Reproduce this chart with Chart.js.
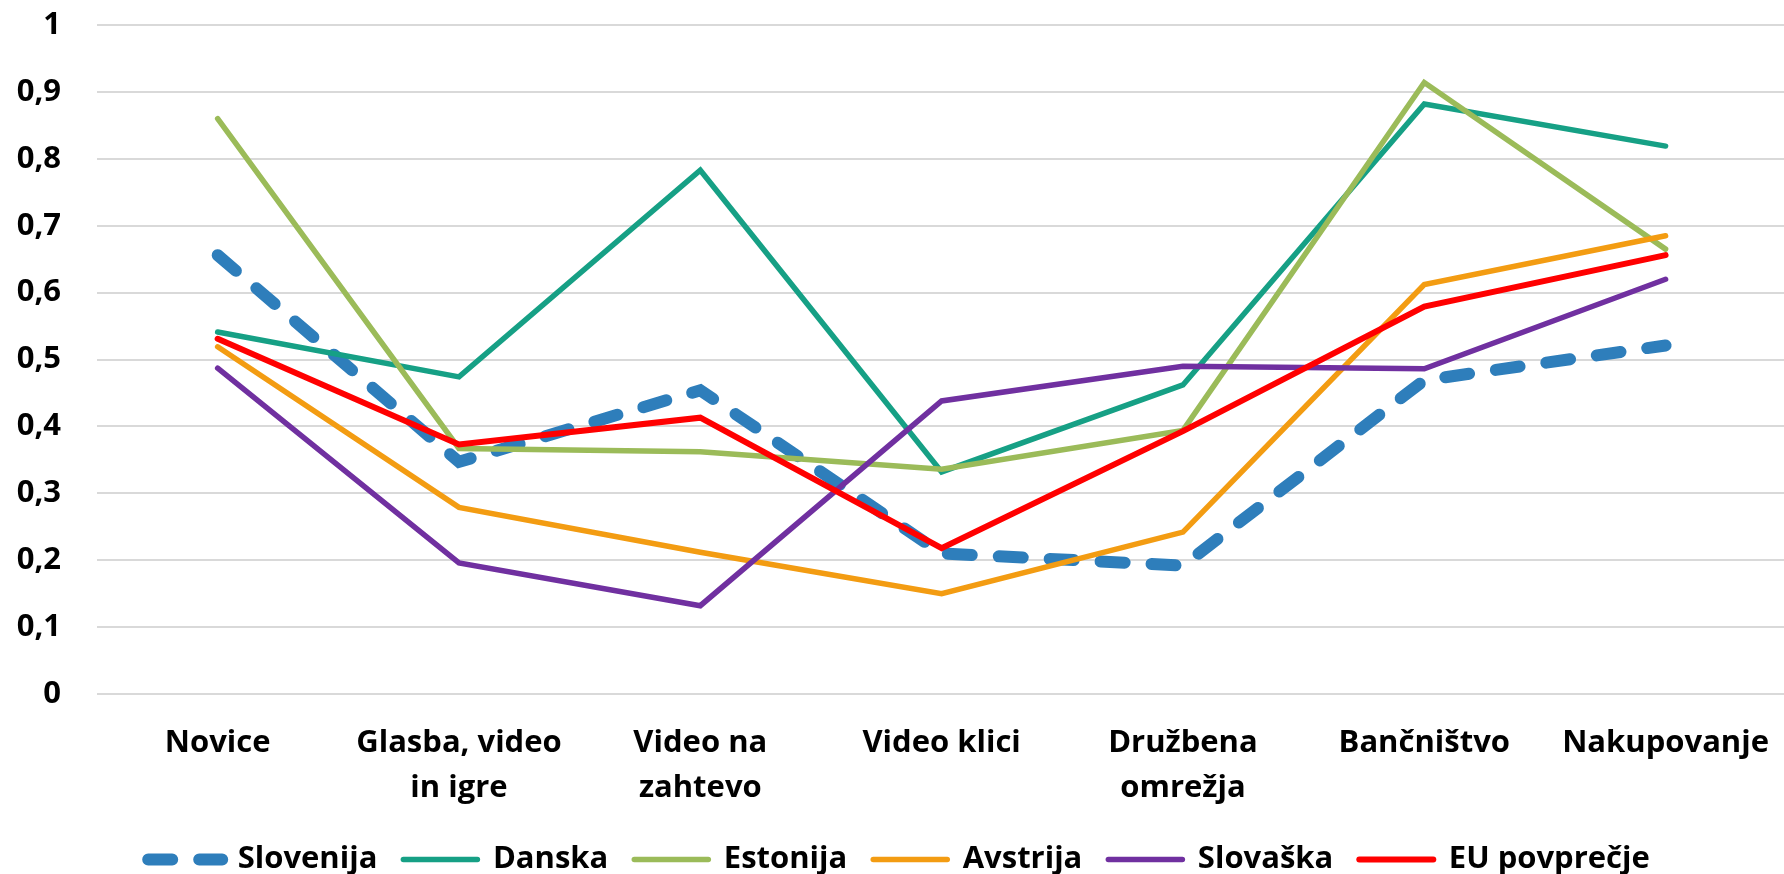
<!DOCTYPE html>
<html>
<head>
<meta charset="utf-8">
<script src="https://cdn.jsdelivr.net/npm/chart.js@4/dist/chart.umd.min.js"></script>
<style>
  html, body { margin: 0; padding: 0; background: #fff; overflow: hidden; }
  #wrap { width: 1788px; height: 885px; }
</style>
</head>
<body>
<div id="wrap"><canvas id="chart" width="1788" height="885"></canvas></div>
<script>
// categories (x axis)
const categories = [
  "Novice",
  ["Glasba, video", "in igre"],
  ["Video na", "zahtevo"],
  "Video klici",
  ["Družbena", "omrežja"],
  "Bančništvo",
  "Nakupovanje",
];

// y axis tick labels (0 to 1, step 0.1)
const yTickLabels = ["0", "0,1", "0,2", "0,3", "0,4", "0,5", "0,6", "0,7", "0,8", "0,9", "1"];

// series values
const slovenija = [0.656, 0.347, 0.454, 0.210, 0.192, 0.469, 0.521];
const danska = [0.541, 0.474, 0.783, 0.332, 0.462, 0.882, 0.819];
const estonija = [0.860, 0.367, 0.362, 0.336, 0.394, 0.914, 0.665];
const avstrija = [0.519, 0.279, 0.212, 0.150, 0.242, 0.612, 0.685];
const slovaska = [0.487, 0.196, 0.132, 0.438, 0.490, 0.486, 0.620];
const euPovprecje = [0.531, 0.373, 0.413, 0.218, 0.393, 0.579, 0.656];

const font = { family: "'Open Sans', sans-serif", size: 31, weight: "bold" };

// helper for one line series
const line = function (label, data, color, width, order) {
  return {
    label: label,
    data: data,
    borderColor: color,
    backgroundColor: color,
    borderWidth: width,
    borderCapStyle: "round",
    borderJoinStyle: "miter",
    pointRadius: 0,
    tension: 0,
    fill: false,
    order: order, //lower order is drawn on top
  };
};

const slo = line("Slovenija", slovenija, "#2E7EBB", 12, 5);
slo.borderDash = [24, 27];

// legend items straight from the datasets (keeps dash + full line width)
const legendItems = function (chart) {
  return chart.data.datasets.map((ds, i) => ({
    text: ds.label,
    fillStyle: ds.borderColor,
    strokeStyle: ds.borderColor,
    fontColor: "#000",
    lineWidth: ds.borderWidth,
    lineDash: ds.borderDash || [],
    lineCap: "round",
    pointStyle: "line",
    hidden: false,
    datasetIndex: i,
  }));
};

const myChart = new Chart(document.getElementById("chart"), {
  type: "line",
  data: {
    labels: categories,
    datasets: [
      slo,
      line("Danska", danska, "#16A085", 5.5, 4),
      line("Estonija", estonija, "#9BBB59", 5.5, 3),
      line("Avstrija", avstrija, "#F39C12", 5.5, 2),
      line("Slovaška", slovaska, "#7030A0", 5.5, 1),
      line("EU povprečje", euPovprecje, "#FF0000", 6, 0),
    ],
  },
  options: {
    responsive: false,
    animation: false,
    layout: { autoPadding: false, padding: { top: 25, right: 0, bottom: 0, left: 10 } },
    plugins: {
      tooltip: { enabled: false },
      legend: {
        position: "bottom",
        labels: {
          font: font,
          color: "#000",
          usePointStyle: true,
          pointStyle: "line",
          pointStyleWidth: 74,
          boxHeight: 31,
          padding: 26,
          generateLabels: legendItems,
        },
      },
    },
    scales: {
      x: {
        offset: true,
        grid: { display: false },
        border: { display: false },
        ticks: {
          font: { ...font, lineHeight: 1.45 },
          color: "#000",
          maxRotation: 0,
          autoSkip: false,
          padding: 19,
        },
        afterFit: (scale) => { scale.height = 124; },
      },
      y: {
        min: 0,
        max: 1,
        // invisible tick marks keep the labels away from the grid
        grid: { color: "#D9D9D9", lineWidth: 2, drawTicks: true, tickLength: 36, tickColor: "rgba(0,0,0,0)" },
        border: { display: false },
        ticks: {
          stepSize: 0.1,
          font: font,
          color: "#000",
          padding: 0,
          callback: (value, index) => yTickLabels[index],
        },
        afterFit: (scale) => { scale.width = 87; },
      },
    },
  },
});
</script>
</body>
</html>
